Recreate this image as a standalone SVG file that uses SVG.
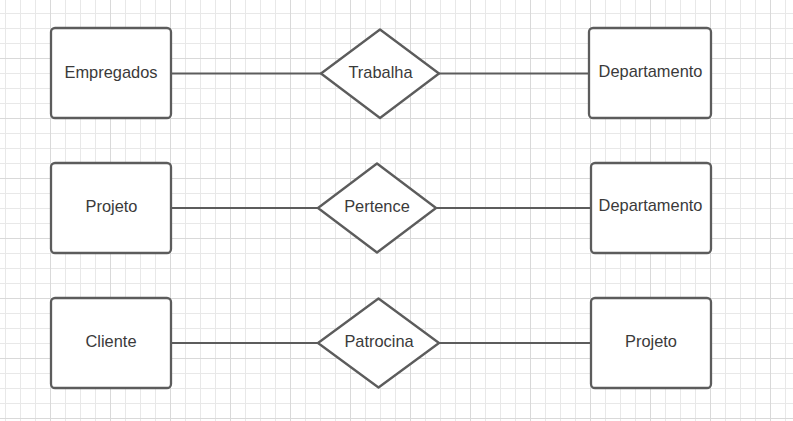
<svg xmlns="http://www.w3.org/2000/svg" width="793" height="421" viewBox="0 0 793 421">
<defs>
<pattern id="minor" x="5" y="13" width="15" height="15" patternUnits="userSpaceOnUse">
<path d="M0.5 0V15M0 0.5H15" fill="none" stroke="#e8e8e8" stroke-width="1"/>
</pattern>
<pattern id="major" x="50" y="-2" width="60" height="60" patternUnits="userSpaceOnUse">
<path d="M0.5 0V60M0 0.5H60" fill="none" stroke="#d9d9d9" stroke-width="1"/>
</pattern>
</defs>
<style>
.ent{fill:#ffffff;stroke:#5c5c5c;stroke-width:2.3}
.rel{fill:#ffffff;stroke:#5c5c5c;stroke-width:2.3;stroke-linejoin:round}
.con{stroke:#5c5c5c;stroke-width:2.2;fill:none}
text{font-family:"Liberation Sans",Arial,sans-serif;font-size:16.4px;fill:#3a3a3a;text-anchor:middle}
</style>
<rect width="793" height="421" fill="#ffffff"/>
<rect width="793" height="421" fill="url(#minor)"/>
<rect width="793" height="421" fill="url(#major)"/>
<g id="connectors">
<line class="con" x1="171" y1="73.5" x2="321" y2="73.5"/>
<line class="con" x1="439" y1="73.5" x2="589" y2="73.5"/>
<line class="con" x1="171" y1="208" x2="318" y2="208"/>
<line class="con" x1="436" y1="208" x2="591" y2="208"/>
<line class="con" x1="171" y1="343" x2="318" y2="343"/>
<line class="con" x1="439" y1="343" x2="591" y2="343"/>
</g>
<g id="empregados">
<rect class="ent" x="51" y="28" width="120" height="90" rx="4"/>
<text x="111" y="78">Empregados</text>
</g>
<g id="trabalha">
<polygon class="rel" points="380,29.5 439,73.5 380,118 321,73.5"/>
<text x="380.5" y="78">Trabalha</text>
</g>
<g id="departamento1">
<rect class="ent" x="589" y="28" width="122" height="90" rx="4"/>
<text x="650.5" y="77">Departamento</text>
</g>
<g id="projeto1">
<rect class="ent" x="51" y="163" width="120" height="90" rx="4"/>
<text x="111.5" y="212">Projeto</text>
</g>
<g id="pertence">
<polygon class="rel" points="377,163.5 436,208 377,252.5 318,208"/>
<text x="377" y="211.5">Pertence</text>
</g>
<g id="departamento2">
<rect class="ent" x="591" y="163" width="120" height="90" rx="4"/>
<text x="650.5" y="211">Departamento</text>
</g>
<g id="cliente">
<rect class="ent" x="51" y="298" width="120" height="90" rx="4"/>
<text x="111" y="347">Cliente</text>
</g>
<g id="patrocina">
<polygon class="rel" points="378.5,298.5 439,343 378.5,387.5 318,343"/>
<text x="379" y="347">Patrocina</text>
</g>
<g id="projeto2">
<rect class="ent" x="591" y="298" width="120" height="90" rx="4"/>
<text x="651" y="347">Projeto</text>
</g>
</svg>
